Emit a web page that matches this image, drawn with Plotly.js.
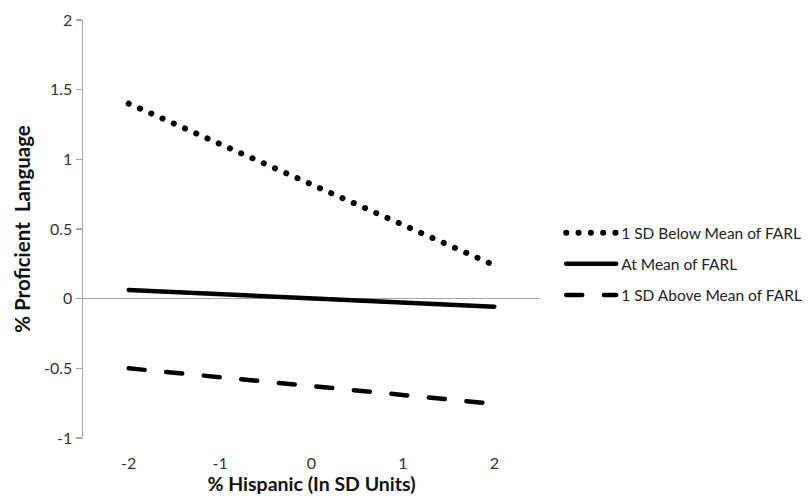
<!DOCTYPE html>
<html>
<head>
<meta charset="utf-8">
<script src="https://cdn.plot.ly/plotly-3.0.1.min.js"></script>
<style>
  html, body { margin: 0; padding: 0; background: #fff; }
  #chart { width: 811px; height: 502px; }
  path.js-line { stroke-linecap: round; }
</style>
</head>
<body>
<div id="chart"></div>
<script>
// Data
var xValues = [-2, 2];
var seriesNames = ["1 SD Below Mean of FARL", "At Mean of FARL", "1 SD Above Mean of FARL"];
var belowMean = [1.40, 0.24];
var atMean = [0.062, -0.058];
var aboveMean = [-0.50, -0.755];
var xTicks = [-2, -1, 0, 1, 2];
var yTicks = [-1, -0.5, 0, 0.5, 1, 1.5, 2];
var yTickLabels = ["-1", "-0.5", "0", "0.5", "1", "1.5", "2"];

var fontFam = "Lato, 'Open Sans', 'Liberation Sans', sans-serif";

var traces = [
  { x: xValues, y: belowMean, name: seriesNames[0], mode: "lines", legendgroup: "a",
    line: { color: "#000", width: 6, dash: "0.1px,12.2px" } },
  { x: xValues, y: atMean, name: seriesNames[1], mode: "lines", legendgroup: "b",
    line: { color: "#000", width: 4.5 } },
  { x: xValues, y: aboveMean, name: seriesNames[2], mode: "lines", legendgroup: "c",
    line: { color: "#000", width: 4.5, dash: "16px,21.7px" } }
];

var layout = {
  width: 811, height: 502,
  margin: { l: 83, r: 271, t: 20, b: 64, autoexpand: false },
  paper_bgcolor: "#fff", plot_bgcolor: "#fff",
  font: { family: fontFam, color: "#333", size: 16 },
  showlegend: true,
  legend: {
    xref: "container", yref: "container",
    x: 0.692, y: 0.474, xanchor: "left", yanchor: "middle",
    traceorder: "grouped", tracegroupgap: 8, itemwidth: 50,
    font: { family: fontFam, size: 15.5, color: "#222" },
    bgcolor: "rgba(0,0,0,0)"
  },
  xaxis: {
    range: [-2.5, 2.5], tickmode: "array", tickvals: xTicks,
    ticktext: xTicks.map(String),
    showgrid: false, zeroline: false, showline: false,
    ticks: "outside", ticklen: 11, tickcolor: "rgba(0,0,0,0)",
    tickfont: { family: fontFam, size: 16, color: "#333" },
    title: { text: "<b>% Hispanic (In SD Units)</b>", standoff: 4,
             font: { family: fontFam, size: 19.5, color: "#111" } },
    automargin: false, fixedrange: true
  },
  yaxis: {
    range: [-1, 2], tickmode: "array", tickvals: yTicks, ticktext: yTickLabels,
    showgrid: false, zeroline: true, zerolinecolor: "#a6a6a6", zerolinewidth: 1.5,
    showline: true, linecolor: "#a6a6a6", linewidth: 1.5,
    ticks: "outside", ticklen: 6, tickcolor: "#a6a6a6", tickwidth: 1.5,
    tickfont: { family: fontFam, size: 16, color: "#333" },
    title: { text: "<b>% Proficient \u00a0Language</b>", standoff: 8,
             font: { family: fontFam, size: 20.5, color: "#111" } },
    automargin: false, fixedrange: true
  }
};

Plotly.newPlot("chart", traces, layout, { displayModeBar: false, staticPlot: true });
</script>
</body>
</html>
